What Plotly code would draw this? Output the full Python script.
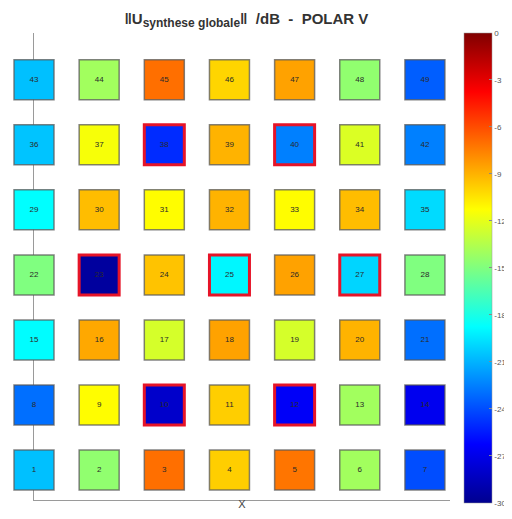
import plotly.graph_objects as go

# Grid categories (column index, row index from bottom) and square labels
labels = [1, 2, 3, 4, 5, 6, 7,
          8, 9, 10, 11, 12, 13, 14,
          15, 16, 17, 18, 19, 20, 21,
          22, 23, 24, 25, 26, 27, 28,
          29, 30, 31, 32, 33, 34, 35,
          36, 37, 38, 39, 40, 41, 42,
          43, 44, 45, 46, 47, 48, 49]
col_index = [1, 2, 3, 4, 5, 6, 7] * 7
row_index = [1] * 7 + [2] * 7 + [3] * 7 + [4] * 7 + [5] * 7 + [6] * 7 + [7] * 7

values_db = [-20.6, -14.5, -7.0, -9.8, -7.2, -14.0, -24.0,
             -23.0, -11.2, -28.0, -9.8, -26.5, -14.0, -26.8,
             -18.8, -8.7, -12.5, -8.5, -12.5, -9.0, -23.0,
             -15.0, -29.5, -9.5, -19.0, -8.5, -20.0, -15.0,
             -18.75, -9.3, -11.2, -9.0, -11.2, -9.3, -19.8,
             -20.5, -11.5, -25.0, -9.0, -22.5, -12.3, -22.5,
             -20.6, -14.0, -7.0, -10.0, -8.5, -14.5, -23.5]

highlighted = [10, 12, 23, 25, 27, 38, 40]

cbar_ticks = [0, -3, -6, -9, -12, -15, -18, -21, -24, -27, -30]

jet = [[0.0, 'rgb(0,0,143)'], [0.125, 'rgb(0,0,255)'], [0.375, 'rgb(0,255,255)'],
       [0.625, 'rgb(255,255,0)'], [0.875, 'rgb(255,0,0)'], [1.0, 'rgb(128,0,0)']]

line_colors = ['rgb(230,20,40)' if n in highlighted else 'rgba(90,90,90,0.75)' for n in labels]
line_widths = [3 if n in highlighted else 1.5 for n in labels]

fig = go.Figure()
fig.add_trace(go.Scatter(
    x=col_index, y=row_index, mode='markers+text', cliponaxis=False,
    text=[str(n) for n in labels], textposition='middle center',
    textfont=dict(size=8, color='#2a2a2a', family='Arial'),
    marker=dict(symbol='square', size=40, color=values_db, colorscale=jet,
                cmin=-30, cmax=0,
                line=dict(color=line_colors, width=line_widths),
                colorbar=dict(thickness=28, lenmode='pixels', len=470,
                              x=1.034, xanchor='left', xpad=0, ypad=0,
                              y=0.497, yanchor='middle',
                              tickvals=cbar_ticks, ticktext=[str(t) for t in cbar_ticks],
                              ticks='inside', ticklen=3, tickcolor='#888888',
                              outlinewidth=0.5, outlinecolor='#999999',
                              tickfont=dict(size=8, color='#555555', family='Arial'))),
    showlegend=False, hoverinfo='skip'))

fig.update_layout(
    width=504, height=511,
    margin=dict(l=26, r=62, t=25, b=19, autoexpand=False),
    paper_bgcolor='white', plot_bgcolor='white',
    title=dict(text='<b>‖U<sub><span style="font-size:12px">synthese globale</span></sub>‖  /dB  -  POLAR V</b>',
               x=0.473, xanchor='center', y=0.99, yanchor='top',
               font=dict(size=15, color='#333333', family='Arial')),
    xaxis=dict(range=[1, 7.385], showgrid=False, zeroline=False, showticklabels=False,
               ticks='', showline=True, linecolor='#9a9a9a', linewidth=1.2, layer='below traces',
               title=dict(text='X', standoff=0, font=dict(size=11, color='#444444', family='Arial'))),
    yaxis=dict(range=[0.538, 7.72], showgrid=False, zeroline=False, showticklabels=False,
               ticks='', showline=True, linecolor='#9a9a9a', linewidth=1.2, layer='below traces'),
)

fig.write_html("out.html")
